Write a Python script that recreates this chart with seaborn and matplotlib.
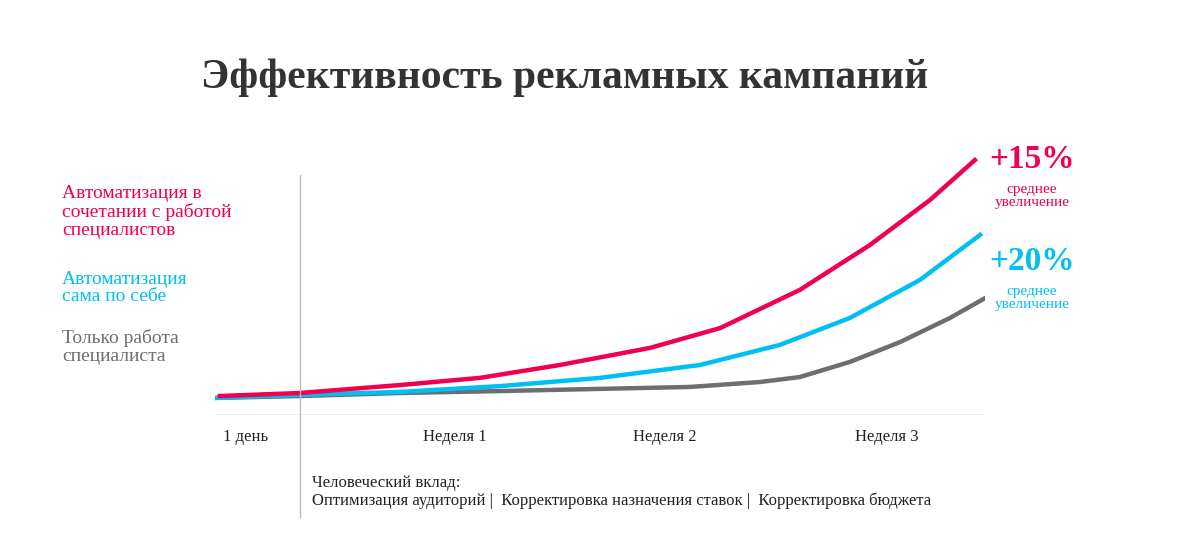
import matplotlib
matplotlib.use("Agg")
import matplotlib.pyplot as plt
import seaborn as sns
import pandas as pd
from matplotlib.lines import Line2D

red_x = [0.14, 2.43, 5.29, 7.57, 9.86, 12.43, 14.43, 16.71, 18.71, 20.43, 21.71]
red_y = [6.9, 8.0, 10.9, 13.5, 18.2, 24.4, 31.6, 45.5, 61.8, 78.2, 92.7]
cyan_x = [0, 2.43, 5.29, 8.14, 11.0, 13.86, 16.14, 18.14, 20.14, 21.86]
cyan_y = [6.2, 7.3, 8.4, 10.5, 13.5, 18.2, 25.5, 35.3, 49.1, 65.5]
gray_x = [0, 2.43, 5.29, 8.14, 11.0, 13.57, 15.57, 16.71, 18.14, 19.57, 21.0, 22.0]
gray_y = [6.2, 6.9, 8.0, 8.7, 9.5, 10.2, 12.0, 13.8, 19.3, 26.5, 35.3, 42.5]
tick_pos = [0.86, 6.86, 12.86, 19.2]
tick_labels = ["1 день", "Неделя 1", "Неделя 2", "Неделя 3"]

RED, CYAN, GRAY = "#f0004f", "#00bff3", "#6d6e71"
FONT = "Liberation Serif"
plt.rcParams["font.family"] = FONT

fig = plt.figure(figsize=(12, 5.6), dpi=100)
ax = fig.add_axes([215/1200, 1-415/560, 770/1200, 275/560])
for xs, ys, c in [(gray_x, gray_y, GRAY), (cyan_x, cyan_y, CYAN), (red_x, red_y, RED)]:
    sns.lineplot(data=pd.DataFrame({"x": xs, "y": ys}), x="x", y="y", color=c,
                 linewidth=3.2, ax=ax, sort=True)
ax.set_xlim(0, 22)
ax.set_ylim(0, 100)
ax.axis("off")
ax.axhline(0, color="#aaaaaa", linewidth=1)
for p, l in zip(tick_pos, tick_labels):
    ax.text(p, -8, l, ha="center", va="center", fontsize=12, color="#222222")

fig.add_artist(Line2D([300/1200, 300/1200], [1-175/560, 1-517/560], color="#bbbbbb", linewidth=1))

fig.text(565/1200, 1-78/560, "Эффективность рекламных кампаний", ha="center", va="center",
         fontsize=30, fontweight="bold", color="#333333")
fig.text(62/1200, 1-212/560, "Автоматизация в\nсочетании с работой\nспециалистов", ha="left", va="center",
         fontsize=14, color=RED, linespacing=1.05)
fig.text(62/1200, 1-288/560, "Автоматизация\nсама по себе", ha="left", va="center",
         fontsize=14, color=CYAN, linespacing=1.05)
fig.text(62/1200, 1-347/560, "Только работа\nспециалиста", ha="left", va="center",
         fontsize=14, color=GRAY, linespacing=1.05)
fig.text(1032/1200, 1-160/560, "+15%", ha="center", va="center", fontsize=24, fontweight="bold", color=RED)
fig.text(1032/1200, 1-196/560, "среднее\nувеличение", ha="center", va="center", fontsize=11, color=RED, linespacing=1.0)
fig.text(1032/1200, 1-262/560, "+20%", ha="center", va="center", fontsize=24, fontweight="bold", color=CYAN)
fig.text(1032/1200, 1-298/560, "среднее\nувеличение", ha="center", va="center", fontsize=11, color=CYAN, linespacing=1.0)
fig.text(312/1200, 1-492/560, "Человеческий вклад:\nОптимизация аудиторий |  Корректировка назначения ставок |  Корректировка бюджета",
         ha="left", va="center", fontsize=12, color="#222222", linespacing=1.15)

fig.savefig("out.png", dpi=100)
